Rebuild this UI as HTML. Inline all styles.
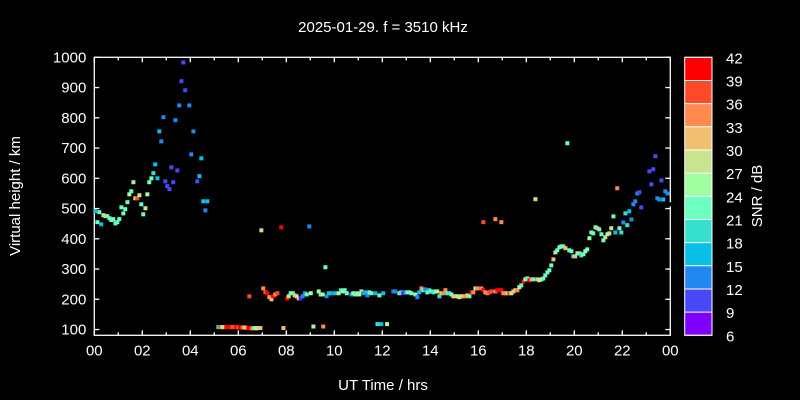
<!DOCTYPE html>
<html><head><meta charset="utf-8"><style>
html,body{margin:0;padding:0;background:#000;}
svg{display:block;font-family:"Liberation Sans",sans-serif;}
</style></head><body>
<svg id="chart" width="800" height="400" viewBox="0 0 800 400">
<rect width="800" height="400" fill="#000"/>
<text x="383" y="32" fill="#fff" font-size="15" text-anchor="middle">2025-01-29. f = 3510 kHz</text>
<text x="383" y="390" fill="#fff" font-size="15" text-anchor="middle">UT Time / hrs</text>
<text transform="translate(20,196) rotate(-90)" fill="#fff" font-size="15" text-anchor="middle">Virtual height / km</text>
<text transform="translate(762,196) rotate(-90)" fill="#fff" font-size="15" text-anchor="middle">SNR / dB</text>
<g id="axes"></g>
<g id="points"></g>
<g id="cbar"></g>
</svg>
<script>
// ---- data ----
const hours = [0.04,0.13,0.21,0.29,0.38,0.46,0.54,0.63,0.71,0.79,0.88,0.96,1.04,1.13,1.21,1.29,1.38,1.46,1.54,1.63,1.71,1.79,1.88,1.96,2.04,2.13,2.21,2.29,2.38,2.46,2.54,2.63,2.71,2.79,2.88,2.96,3.04,3.13,3.21,3.29,3.38,3.46,3.54,3.63,3.71,3.79,3.96,4.04,4.13,4.29,4.38,4.46,4.54,4.63,4.71,
5.17,5.25,5.33,5.42,5.5,5.58,5.67,5.75,5.83,5.92,6.0,6.08,6.17,6.25,6.33,6.42,6.5,6.58,6.67,6.75,6.83,6.92,
6.46,6.96,7.04,7.13,7.21,7.29,7.38,7.46,7.54,7.63,7.79,7.88,8.96,9.13,9.54,9.63,11.8,11.96,12.2,
8.04,8.1,8.18,8.27,8.35,8.43,8.52,8.6,8.68,8.77,8.85,9.02,9.35,9.43,9.52,9.68,9.77,9.85,10.02,10.18,10.27,10.35,10.43,10.52,10.71,10.79,10.88,10.96,11.04,11.13,11.21,11.29,11.38,11.46,11.54,11.71,11.88,12.04,
12.46,12.54,12.71,12.79,12.88,12.96,13.04,13.13,13.21,13.38,13.46,13.54,13.63,13.71,13.79,13.88,13.96,14.04,14.13,14.21,14.29,14.38,14.46,14.54,14.63,14.71,14.79,14.88,14.96,15.04,15.13,15.21,15.29,15.38,15.46,15.54,15.63,15.71,15.79,15.88,15.96,16.13,16.21,16.29,16.38,16.46,16.54,16.71,16.79,16.88,16.96,17.04,17.13,17.21,17.29,17.38,17.46,17.54,17.63,17.71,17.79,17.88,17.96,18.04,18.13,
16.21,16.71,16.96,18.38,19.71,21.79,
18.21,18.29,18.46,18.54,18.63,18.71,18.79,18.88,18.96,19.04,19.13,19.21,19.29,19.38,19.46,19.54,19.63,19.79,19.88,19.96,20.04,20.13,20.21,20.29,20.38,20.46,20.54,20.63,20.71,20.79,20.88,20.96,21.04,21.13,21.21,21.29,21.38,21.46,21.54,21.63,21.71,21.88,21.96,22.04,22.13,22.21,22.29,22.38,22.46,22.54,22.63,22.71,22.79,23.13,23.21,23.29,23.38,23.46,23.54,23.63,23.71,23.79,23.88,23.96];
const heights = [491,455,488,448,478,475,475,468,462,465,451,455,465,504,484,498,521,547,557,587,534,534,544,514,481,501,547,587,600,617,646,600,755,722,802,590,574,564,636,587,792,626,841,921,983,891,841,679,755,590,607,666,524,494,524,
108,108,108,108,108,108,108,108,108,108,107,107,107,107,106,105,104,104,105,104,105,105,
210,428,236,223,220,207,200,210,216,220,438,105,441,110,110,306,118,118,118,
203,210,220,220,213,210,203,203,210,220,216,220,226,216,216,210,220,220,220,220,230,226,230,220,216,220,216,220,216,226,220,223,213,223,220,220,213,220,
226,226,220,223,220,223,223,223,220,216,207,223,236,230,233,223,230,226,223,226,226,210,220,220,230,220,220,216,210,210,210,207,210,210,210,213,210,223,223,236,236,236,230,223,220,223,226,226,230,230,230,220,220,220,220,220,226,230,230,240,246,259,266,269,263,
455,465,455,531,716,567,
266,266,266,263,266,269,279,289,296,312,332,355,362,372,375,375,369,362,359,342,342,352,352,345,349,359,365,402,421,418,438,435,431,415,395,405,415,418,435,474,421,435,421,454,484,445,491,464,514,524,550,554,504,623,580,630,673,534,530,593,530,557,550,514];
const snr = [17,22,23,16,29,32,23,22,23,23,23,23,22,23,22,22,22,26,22,29,29,38,29,23,23,29,26,23,22,19,16,16,17,13,13,10,10,10,10,10,13,10,13,10,10,10,13,13,13,10,16,16,16,13,16,
19,37,29,29,41,41,41,38,38,41,38,41,38,32,32,41,41,35,23,26,29,32,
38,29,35,38,41,35,32,41,35,38,41,32,13,26,35,22,19,16,25,
41,29,23,23,32,29,29,8,13,13,22,26,26,23,26,13,16,16,16,26,19,26,22,23,13,26,23,22,26,29,13,16,13,23,22,16,22,16,
13,13,22,19,8,13,23,23,22,26,13,16,35,23,13,23,19,22,19,23,26,19,32,35,35,22,19,23,29,32,29,26,29,32,35,32,23,41,35,26,35,35,41,35,35,38,38,35,41,41,41,35,35,32,38,26,32,32,35,26,23,41,26,22,
41,38,35,35,29,22,
35,35,23,32,29,26,23,23,23,23,22,32,29,23,22,23,22,32,22,22,19,32,29,22,19,23,26,22,26,22,23,23,32,22,22,23,29,26,29,29,22,16,22,19,13,19,19,16,13,13,13,13,10,10,10,10,10,10,13,13,10,16,13,13];
const xTickLabels = ["00","02","04","06","08","10","12","14","16","18","20","22","00"];
const yTickLabels = [100,200,300,400,500,600,700,800,900,1000];
const cbarLabels = [42,39,36,33,30,27,24,21,18,15,12,9,6];
const cbarColors = ["#ff0000","#ff4a2a","#ff8a50","#f0c070","#c8e48e","#a0ffa0","#6cffc0","#38e0d0","#08c0e8","#2088f0","#4848f8","#8000ff"];

// ---- axes ----
const NS="http://www.w3.org/2000/svg";
const X0=94.3,X1=670.3,YT=57.3,YB=335.3;
const xScale=h=>X0+(h/24)*(X1-X0);
const yScale=k=>YT+(1000-k)*0.3025;
const snrColor=s=>{let i=Math.floor((42-s)/3);if(i<0)i=0;if(i>11)i=11;return cbarColors[i];};
function mk(tag,attrs,parent){const e=document.createElementNS(NS,tag);for(const k in attrs)e.setAttribute(k,attrs[k]);parent.appendChild(e);return e;}
const axes=document.getElementById('axes');
const frame=mk('rect',{x:X0,y:YT,width:X1-X0,height:YB-YT,fill:'none',stroke:'#fff','stroke-width':1.3},axes);


for(let h=0;h<=24;h++){
  const x=xScale(h),len=(h%2===0)?5:3;
  const t1=mk('line',{x1:x,x2:x,y1:YB,y2:YB-len,stroke:'#fff','stroke-width':1.3},axes);
  
  
  const t2=mk('line',{x1:x,x2:x,y1:YT,y2:YT+len,stroke:'#fff','stroke-width':1.3},axes);
  
  
}
xTickLabels.forEach((lab,i)=>{
  const t=mk('text',{x:xScale(i*2),y:YB+20,fill:'#fff','font-size':15,'text-anchor':'middle'},axes);
  t.textContent=lab;
  
  
});
yTickLabels.forEach(v=>{
  const y=yScale(v);
  const a=mk('line',{x1:X0,x2:X0+5,y1:y,y2:y,stroke:'#fff','stroke-width':1.3},axes);
  
  
  const b=mk('line',{x1:X1,x2:X1-5,y1:y,y2:y,stroke:'#fff','stroke-width':1.3},axes);
  
  
  const t=mk('text',{x:X0-8,y:y+5,fill:'#fff','font-size':15,'text-anchor':'end'},axes);
  t.textContent=v;
  
  
});
// ---- points ----
const pts=document.getElementById('points');
for(let i=0;i<hours.length;i++){
  const r=mk('rect',{x:xScale(hours[i])-2,y:yScale(heights[i])-2,width:4,height:4,fill:snrColor(snr[i])},pts);
  
  
}
// ---- colorbar ----
const cb=document.getElementById('cbar');
const CX=684.7,CW=27.3,bandH=(YB-YT)/12;
cbarColors.forEach((c,i)=>{
  const r=mk('rect',{x:CX,y:YT+i*bandH,width:CW,height:bandH+0.3,fill:c},cb);
  
  
});
const cf=mk('rect',{x:CX,y:YT,width:CW,height:YB-YT,fill:'none',stroke:'#fff','stroke-width':1},cb);


cbarLabels.forEach((v,i)=>{
  const y=YT+i*bandH;
  const tk=mk('line',{x1:CX,x2:CX+CW,y1:y,y2:y,stroke:'#fff','stroke-width':1},cb);
  
  
  const t=mk('text',{x:726,y:y+6,fill:'#fff','font-size':15},cb);
  t.textContent=v;
  
  
});
</script>
</body></html>
